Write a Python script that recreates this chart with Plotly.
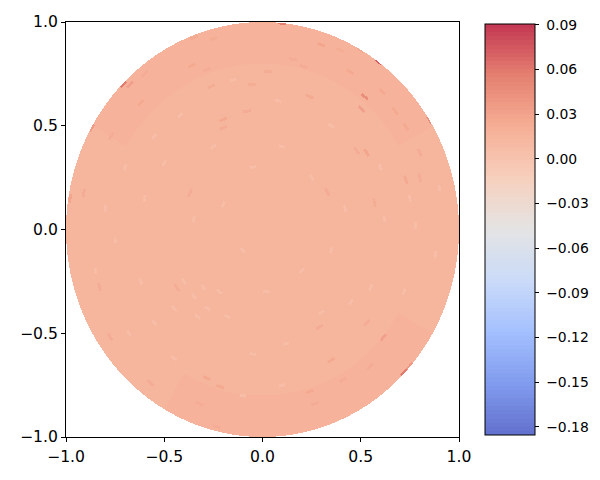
import numpy as np
import plotly.graph_objects as go

# Estimated background values, in thousandths: ring by ring (inner to outer),
# each ring listed counter-clockwise from the +x direction.
ring_edges = [0, .6, .8, 1.0]
ring_0 = [15, 15, 15, 15, 15, 15, 15, 15, 15, 15, 15, 15]
ring_1 = [15, 16, 16, 16, 16, 15, 15, 15, 15, 15, 16, 15]
ring_2 = [16, 17, 17, 17, 17, 16, 16, 16, 17, 17, 17, 16]
ring_values = [ring_0, ring_1, ring_2]

# Dark streaks
streak_x = [.52, .505, .30, .24, .53, .61, .445, .675, .73, .57, .33, .80, .73, .155, .21, .03, .395, .50, .80, .48,
            -.35, -.25, -.36, -.285, -.62, -.60, -.20, -.26, -.08, -.675, -.77, -.20, -.055,
            .615, .547, .35, .24, .267, .53, .41, .29,
            -.216, -.284, -.32, -.233, -.37, -.57, -.436, -.83, -.776, -.91]
streak_y = [.64, .58, .89, .64, .37, .665, .76, .57, .24, .13, .18, .25, .495, .82, .785, .76, .865, .865, .37, .38,
            .925, .92, .79, .77, .61, .75, .53, .69, .57, .70, .45, .49, .70,
            -.52, -.66, -.63, -.78, -.84, -.45, -.725, -.47,
            -.757, -.716, -.84, -.95, .175, -.74, -.28, -.275, -.517, .175]
streak_value = [44, 32, 28, 25, 28, 26, 25, 25, 25, 23, 23, 23, 25, 24, 23, 23, 24, 25, 23, 24,
                26, 24, 26, 24, 27, 24, 25, 24, 23, 30, 23, 23, 23,
                32, 24, 25, 25, 24, 23, 23, 22,
                25, 25, 24, 24, 22, 23, 22, 22, 23, 22]

# Hot spots on the rim
rim_x = [.59, .85, .10, -.71, -.87, .72, .75, -.98]
rim_y = [.81, .53, .995, .70, .49, -.69, -.66, .15]
rim_value = [72, 45, 55, 60, 36, 60, 40, 28]

# Pale patches
pale_x = [-.35, -.30, -.28, -.22, -.40, -.33, -.18, -.45, -.70, -.80, -.75, -.60, -.50, -.85, -.62, -.55, -.68, -.45,
          -.35, -.20, -.10, .02, .12, .20, .35, .42, .25, .10, -.05, -.25, -.42, -.55, .62, .78, .88, .72, .45, .55, .30,
          -.05, -.10, .10, .35, .08, -.15, .75, .90, .60]
pale_y = [-.32, -.28, -.38, -.30, -.25, -.42, -.42, -.38, .30, .10, -.05, .15, .32, -.20, -.25, -.45, -.50, -.62,
          .05, .12, -.10, -.30, -.55, -.20, -.10, .10, .25, .40, .30, .40, .55, .45, .05, .02, -.12, -.30, -.35, -.28, -.40,
          -.60, -.80, -.75, .50, .62, .72, .15, .20, .30]
pale_value = 7

value_min = -0.1854
value_max = 0.0905
level_count = 100
colorbar_ticks = [0.09, 0.06, 0.03, 0.00, -0.03, -0.06, -0.09, -0.12, -0.15, -0.18]
axis_ticks = [-1.0, -0.5, 0.0, 0.5, 1.0]

# coolwarm anchors, shown at 80% opacity on white
coolwarm = [(59, 76, 192), (98, 130, 234), (141, 176, 254), (189, 209, 246), (221, 221, 221),
            (245, 196, 173), (244, 154, 123), (222, 96, 77), (180, 4, 38)]

def shade(t):
    p = t * (len(coolwarm) - 1)
    i = min(int(p), len(coolwarm) - 2)
    f = p - i
    rgb = [(1 - f) * a + f * b for a, b in zip(coolwarm[i], coolwarm[i + 1])]
    return "rgb(%d,%d,%d)" % tuple(round(0.8 * c + 0.2 * 255) for c in rgb)

colorscale = []
for k in range(level_count):
    c = shade((k + 0.5) / level_count)
    colorscale += [[k / level_count, c], [(k + 1) / level_count, c]]

nx, ny = 393, 415
xs = (np.arange(nx) + 0.5) / nx * 2 - 1
ys = (np.arange(ny) + 0.5) / ny * 2 - 1
X, Y = np.meshgrid(xs, ys)
R = np.hypot(X, Y)
T = np.mod(np.arctan2(Y, X), 2 * np.pi)
Z = np.full(X.shape, np.nan)
for idx, ring in enumerate(ring_values):
    mask = (R >= ring_edges[idx]) & (R < ring_edges[idx + 1])
    sector = np.minimum((T[mask] / (2 * np.pi) * len(ring)).astype(int), len(ring) - 1)
    Z[mask] = np.asarray(ring)[sector] / 1000.0

def stamp(px, py, value, half_len, half_width):
    """Write one value into a small arc-shaped patch centred on (px, py)."""
    r0 = np.hypot(px, py)
    t0 = np.arctan2(py, px)
    dt = np.abs(np.mod(np.arctan2(Y, X) - t0 + np.pi, 2 * np.pi) - np.pi)
    Z[(np.abs(R - r0) < half_width) & (dt * r0 < half_len) & (R < 1)] = value / 1000.0

for px, py in zip(pale_x, pale_y):
    stamp(px, py, pale_value, 0.016, 0.007)
for px, py, v in zip(streak_x, streak_y, streak_value):
    stamp(px, py, v, 0.020, 0.007)
for px, py, v in zip(rim_x, rim_y, rim_value):
    stamp(px, py, v, 0.020, 0.008)

fig = go.Figure(go.Heatmap(
    x=xs, y=ys, z=Z, zmin=value_min, zmax=value_max, colorscale=colorscale,
    hoverinfo="skip", zsmooth=False,
    colorbar=dict(
        x=(485 - 66) / 393, xanchor="left", xpad=0,
        y=(437 - 24) / 415, yanchor="top", ypad=0,
        lenmode="pixels", len=411, thicknessmode="pixels", thickness=50,
        outlinecolor="black", outlinewidth=1,
        tickmode="array", tickvals=colorbar_ticks,
        ticktext=["\u00a0" + f"{v:.2f}".replace("-", "\u2212") for v in colorbar_ticks],
        ticks="outside", ticklen=4, tickwidth=1, tickcolor="black",
        tickfont=dict(family="DejaVu Sans", size=13.9, color="black"),
    ),
))

axis_style = dict(
    range=[-1, 1], tickmode="array", tickvals=axis_ticks,
    ticktext=[f"{v:.1f}".replace("-", "\u2212") for v in axis_ticks],
    ticks="outside", ticklen=4, tickwidth=1, tickcolor="black",
    showline=True, mirror=True, linecolor="black", linewidth=1,
    showgrid=False, zeroline=False,
    tickfont=dict(family="DejaVu Sans", size=15.6, color="black"),
)
fig.update_xaxes(ticklabelstandoff=1, **axis_style)
fig.update_yaxes(**axis_style)
fig.update_layout(
    width=603, height=480, margin=dict(l=66, r=144, t=22, b=43),
    paper_bgcolor="white", plot_bgcolor="white", showlegend=False,
)
fig.write_html("out.html", config={"displayModeBar": False},
               post_script="document.body.style.margin='0';document.body.style.overflow='hidden';")
